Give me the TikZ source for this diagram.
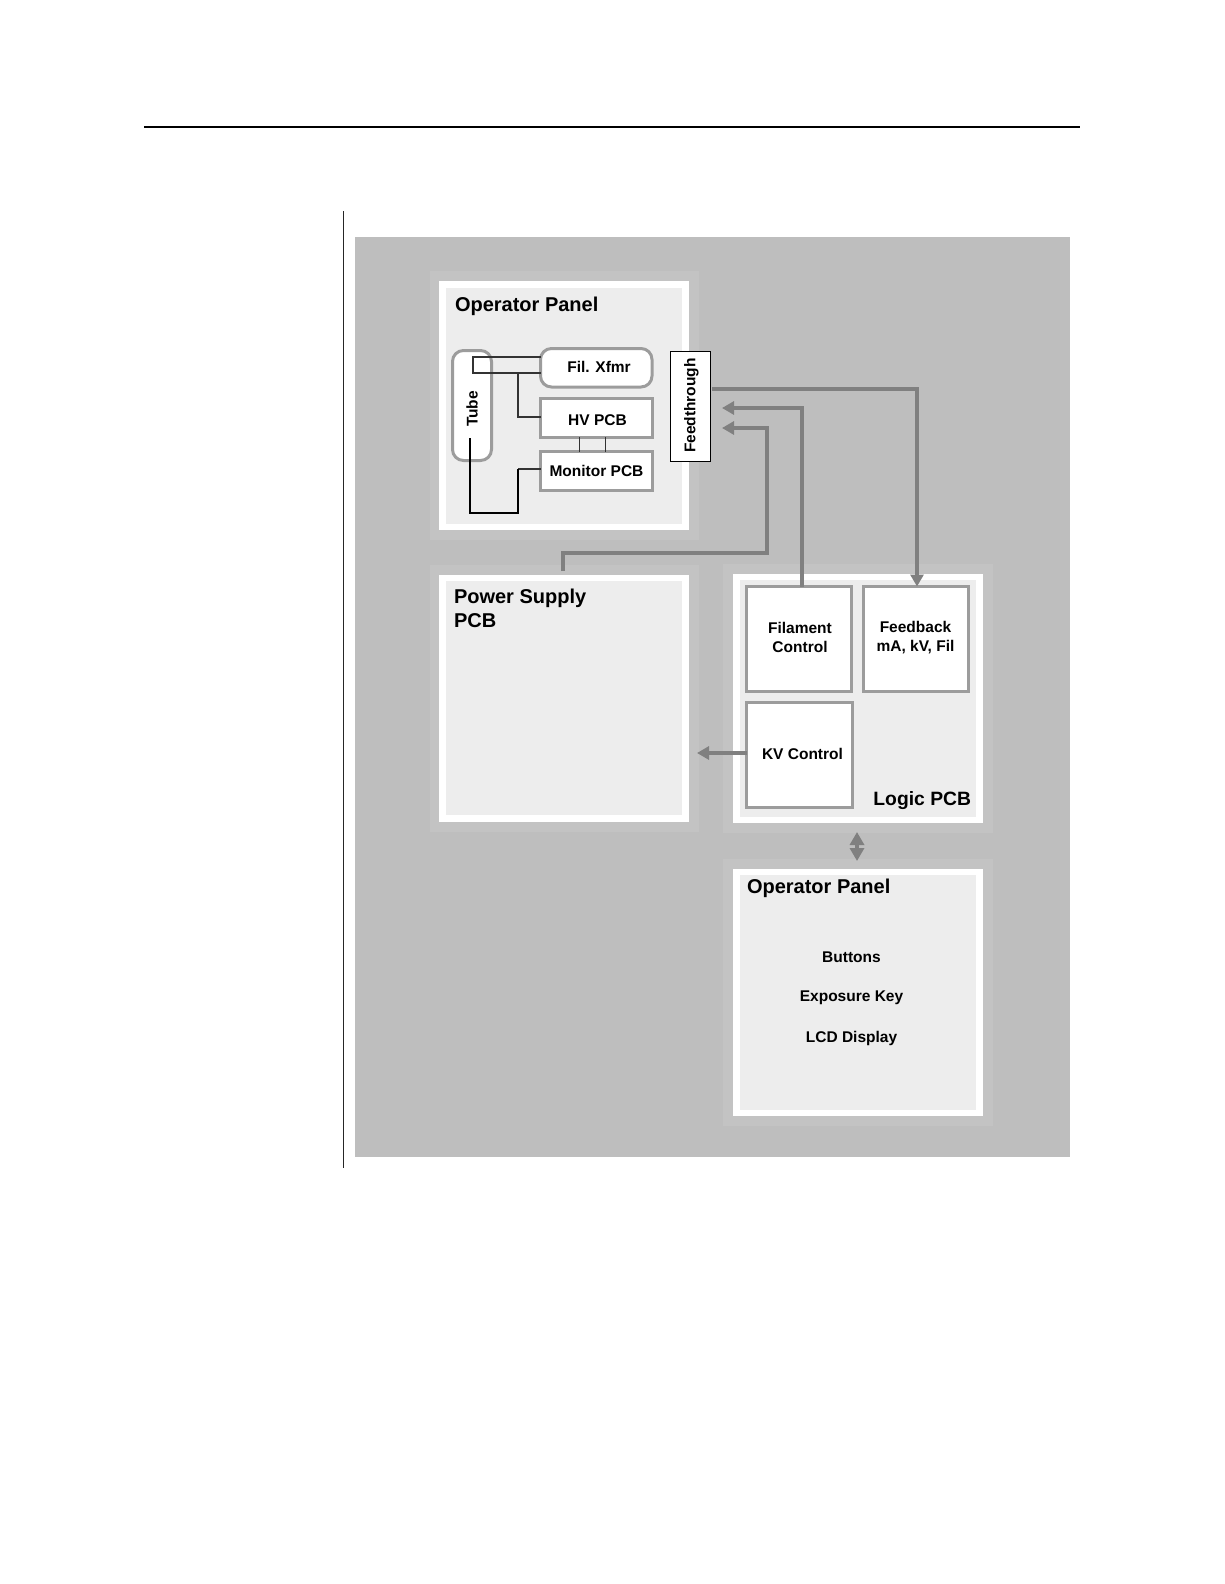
\documentclass[tikz,border=0pt]{standalone}
\usepackage{fontspec}
\setmainfont{Liberation Sans}
\usetikzlibrary{arrows.meta}
\definecolor{bgc}{HTML}{BEBEBE}
\definecolor{haloc}{HTML}{C3C3C3}
\definecolor{innerc}{HTML}{EDEDED}
\definecolor{strokec}{HTML}{9C9C9C}
\definecolor{arrowc}{HTML}{808080}
\newcommand{\rectnode}[6]{%
  \pgfmathsetmacro{\rcx}{(#3+#5)/2}\pgfmathsetmacro{\rcy}{(#4+#6)/2}%
  \pgfmathsetmacro{\rw}{#5-#3}\pgfmathsetmacro{\rh}{#6-#4}%
  \node[#1,minimum width=\rw pt,minimum height=\rh pt] (#2) at (\rcx,\rcy) {};}
\tikzset{
  x=1pt,y=-1pt,
  every node/.style={inner sep=0pt,outer sep=0pt},
  bgbox/.style={fill=bgc},
  halo/.style={fill=haloc},
  whitebox/.style={fill=white},
  innerbox/.style={fill=innerc},
  grayframe/.style={draw=strokec,line width=3pt,fill=white},
  roundframe/.style={grayframe,rounded corners=11pt},
  feedbox/.style={draw=black,line width=0.9pt,fill=white},
  title/.style={font=\fontsize{20}{23.5}\selectfont\bfseries,align=left,anchor=west},
  blocklabel/.style={font=\fontsize{15.5}{19}\selectfont\bfseries,align=center},
  wire/.style={draw=black!80,line width=1.1pt},
  heavywire/.style={draw=black,line width=2pt},
  bus/.style={draw=arrowc,line width=4pt},
  busarrow/.style={bus,-{Triangle[length=12pt,width=13pt]}},
  dbl/.style={bus,{Triangle[length=13pt,width=14pt]}-{Triangle[length=13pt,width=14pt]}},
  rule/.style={draw=black,line width=1.3pt},
  thinrule/.style={draw=black!85,line width=1pt}
}
\begin{document}
\begin{tikzpicture}
\useasboundingbox (0,0) rectangle (1224,1584);
\fill[white] (0,0) rectangle (1224,1584);
\coordinate (r1) at (144,127); \coordinate (r2) at (1080,127);
\draw[rule] (r1) -- (r2);
\coordinate (v1) at (343,211); \coordinate (v2) at (343,1168);
\draw[thinrule] (v1) -- (v2);
\rectnode{bgbox}{bg}{354.5}{237}{1070}{1157}
% panels
\rectnode{halo}{h1}{430}{271}{699}{540}
\rectnode{whitebox}{w1}{439}{281}{689}{530}
\rectnode{innerbox}{i1}{446}{288}{682}{524}
\rectnode{halo}{h2}{430}{565}{699}{832}
\rectnode{whitebox}{w2}{439}{575}{689}{822}
\rectnode{innerbox}{i2}{446}{581}{682}{815}
\rectnode{halo}{h3}{723}{564}{993}{833}
\rectnode{whitebox}{w3}{733}{574}{983}{823}
\rectnode{innerbox}{i3}{740}{580}{976}{817}
\rectnode{halo}{h4}{723}{859}{993}{1126}
\rectnode{whitebox}{w4}{733}{869}{983}{1116}
\rectnode{innerbox}{i4}{740}{875}{976}{1110}
% operator panel parts
\rectnode{roundframe}{tube}{452.5}{350.5}{491.5}{460.5}
\rectnode{roundframe}{fil}{540.5}{348.5}{652}{387}
\rectnode{grayframe}{hv}{540.5}{398.5}{652}{437}
\rectnode{grayframe}{mon}{540.5}{451.5}{652}{490}
\rectnode{feedbox}{feed}{670.5}{351}{710}{461}
% logic parts
\rectnode{grayframe}{filc}{746.5}{586.5}{851.5}{691.5}
\rectnode{grayframe}{fb}{863.5}{586.5}{968.5}{691.5}
\rectnode{grayframe}{kv}{746.5}{702.5}{852}{807.5}
% wires
\coordinate (a1) at (473,357); \coordinate (a2) at (473,373); \coordinate (a3) at (518,373);
\draw[wire] (fil.west |- a1) -- (a1) -- (a2) -- (fil.west |- a2);
\coordinate (a4) at (518,417);
\draw[wire] (a3) -- (a4) -- (hv.west |- a4);
\coordinate (m1) at (579,437); \coordinate (m2) at (605,437);
\draw[wire,line width=0.8pt] (m1) -- (mon.north -| m1);
\draw[wire,line width=0.8pt] (m2) -- (mon.north -| m2);
\coordinate (b1) at (518,469); \coordinate (b2) at (518,513); \coordinate (b3) at (470,513); \coordinate (b4) at (470,438);
\draw[wire] (mon.west |- b1) -- (b1);
\draw[heavywire,line join=miter] (b1) -- (b2) -- (b3) -- (b4);
% buses
\coordinate (c1) at (712,389); \coordinate (c2) at (917,389);
\draw[busarrow] (c1) -- (c2) -- (fb.north -| c2);
\coordinate (d1) at (802,408); \coordinate (d2) at (722,408);
\draw[busarrow] (filc.north -| d1) -- (d1) -- (d2);
\coordinate (e1) at (563,571); \coordinate (e2) at (563,553); \coordinate (e3) at (767,553); \coordinate (e4) at (767,428); \coordinate (e5) at (722,428);
\draw[bus] (e1) -- (e2) -- (e3) -- (e4);
\draw[busarrow] (e3) -- (e4) -- (e5);
\coordinate (f1) at (697,753);
\draw[busarrow] (kv.west |- f1) -- (f1);
\coordinate (g1) at (857,832); \coordinate (g2) at (857,861);
\draw[dbl] (g1) -- (g2);
% labels
\node[title] (t1) at (455,306.5) {Operator Panel};
\node[title] (t2) at (454,608.5) {Power Supply\\PCB};
\node[title,anchor=east,font=\fontsize{19.3}{23}\selectfont\bfseries] (t3) at (971,801) {Logic PCB};
\node[title] (t4) at (747,888.5) {Operator Panel};
\node[blocklabel] (l1) at (599,367) {Fil. Xfmr};
\node[blocklabel] (l2) at (597.5,420) {HV PCB};
\node[blocklabel] (l3) at (596.5,470.5) {Monitor PCB};
\node[blocklabel,rotate=90] (l4) at (472,409) {Tube};
\node[blocklabel,rotate=90] (l5) at (691.5,405.5) {Feedthrough};
\node[blocklabel] (l6) at (800,637.5) {Filament\\Control};
\node[blocklabel] (l7) at (915.5,637.5) {Feedback\\mA, kV, Fil};
\node[blocklabel] (l8) at (802.5,753.5) {KV Control};
\node[blocklabel] (l9) at (851.5,957.5) {Buttons};
\node[blocklabel] (l10) at (851.5,998) {Exposure Key};
\node[blocklabel] (l11) at (851.5,1038) {LCD Display};
\end{tikzpicture}
\end{document}
